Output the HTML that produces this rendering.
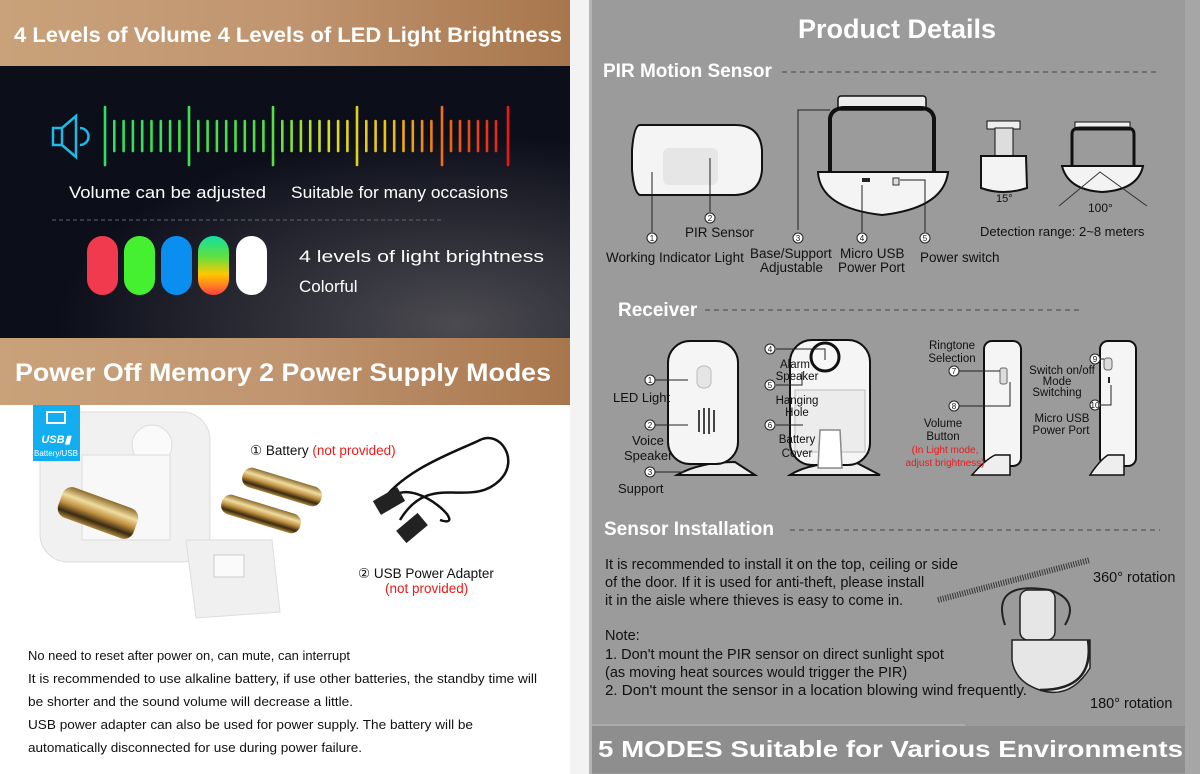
<!DOCTYPE html>
<html><head><meta charset="utf-8"><style>
html,body{margin:0;padding:0;background:#fff;}
svg{display:block;font-family:"Liberation Sans",Arial,sans-serif;}
</style></head><body>
<svg width="1200" height="774" viewBox="0 0 1200 774" xmlns="http://www.w3.org/2000/svg" xml:space="preserve">
<defs>
<linearGradient id="tan" x1="0" x2="1" y1="0" y2="0"><stop offset="0" stop-color="#c9a27a"/><stop offset="0.5" stop-color="#c09570"/><stop offset="1" stop-color="#a8764c"/></linearGradient>
<radialGradient id="dark" cx="0.8" cy="0.95" r="0.7"><stop offset="0" stop-color="#4b4a50"/><stop offset="1" stop-color="#0c0e1a"/></radialGradient>
<linearGradient id="bars" x1="105" x2="512" gradientUnits="userSpaceOnUse"><stop offset="0" stop-color="#2ee060"/><stop offset="0.4" stop-color="#50e040"/><stop offset="0.55" stop-color="#d8e020"/><stop offset="0.7" stop-color="#f0c010"/><stop offset="0.8" stop-color="#f08010"/><stop offset="1" stop-color="#f01010"/></linearGradient>
<linearGradient id="rb" x1="0" x2="0" y1="0" y2="1"><stop offset="0" stop-color="#10e0a0"/><stop offset="0.35" stop-color="#60e040"/><stop offset="0.65" stop-color="#ffc800"/><stop offset="1" stop-color="#ff4040"/></linearGradient>
<linearGradient id="gold" x1="0" x2="0" y1="0" y2="1"><stop offset="0" stop-color="#8a6a2a"/><stop offset="0.3" stop-color="#f0dca0"/><stop offset="0.55" stop-color="#c09040"/><stop offset="0.8" stop-color="#3a2a10"/><stop offset="1" stop-color="#b08a40"/></linearGradient>
</defs>

<rect x="0" y="0" width="570" height="66" fill="url(#tan)"/>
<text x="14" y="42" font-size="21" font-weight="bold" fill="#fff" textLength="548" lengthAdjust="spacingAndGlyphs">4 Levels of Volume  4 Levels of LED Light Brightness</text>
<rect x="0" y="66" width="570" height="272" fill="url(#dark)"/>
<g fill="none" stroke="#22b8e6" stroke-width="2.5">
<rect x="53" y="128" width="9" height="17"/>
<path d="M62 128 L76 116 L76 157 L62 145"/>
<path d="M80 128 A8 8 0 0 1 80 145"/>
</g>
<g stroke="url(#bars)" stroke-width="2.6" stroke-linecap="round">
<line x1="105" y1="107" x2="105" y2="165"/><line x1="189" y1="107" x2="189" y2="165"/><line x1="273" y1="107" x2="273" y2="165"/><line x1="357" y1="107" x2="357" y2="165"/><line x1="442" y1="107" x2="442" y2="165"/><line x1="508" y1="107" x2="508" y2="165"/>
<line x1="114.3" y1="121" x2="114.3" y2="151"/><line x1="123.6" y1="121" x2="123.6" y2="151"/><line x1="132.9" y1="121" x2="132.9" y2="151"/><line x1="142.2" y1="121" x2="142.2" y2="151"/><line x1="151.5" y1="121" x2="151.5" y2="151"/><line x1="160.8" y1="121" x2="160.8" y2="151"/><line x1="170.1" y1="121" x2="170.1" y2="151"/><line x1="179.4" y1="121" x2="179.4" y2="151"/>
<line x1="198.3" y1="121" x2="198.3" y2="151"/><line x1="207.6" y1="121" x2="207.6" y2="151"/><line x1="216.9" y1="121" x2="216.9" y2="151"/><line x1="226.2" y1="121" x2="226.2" y2="151"/><line x1="235.5" y1="121" x2="235.5" y2="151"/><line x1="244.8" y1="121" x2="244.8" y2="151"/><line x1="254.1" y1="121" x2="254.1" y2="151"/><line x1="263.4" y1="121" x2="263.4" y2="151"/>
<line x1="282.3" y1="121" x2="282.3" y2="151"/><line x1="291.6" y1="121" x2="291.6" y2="151"/><line x1="300.9" y1="121" x2="300.9" y2="151"/><line x1="310.2" y1="121" x2="310.2" y2="151"/><line x1="319.5" y1="121" x2="319.5" y2="151"/><line x1="328.8" y1="121" x2="328.8" y2="151"/><line x1="338.1" y1="121" x2="338.1" y2="151"/><line x1="347.4" y1="121" x2="347.4" y2="151"/>
<line x1="366.3" y1="121" x2="366.3" y2="151"/><line x1="375.6" y1="121" x2="375.6" y2="151"/><line x1="384.9" y1="121" x2="384.9" y2="151"/><line x1="394.2" y1="121" x2="394.2" y2="151"/><line x1="403.5" y1="121" x2="403.5" y2="151"/><line x1="412.8" y1="121" x2="412.8" y2="151"/><line x1="422.1" y1="121" x2="422.1" y2="151"/><line x1="431.4" y1="121" x2="431.4" y2="151"/>
<line x1="451" y1="121" x2="451" y2="151"/><line x1="460" y1="121" x2="460" y2="151"/><line x1="469" y1="121" x2="469" y2="151"/><line x1="478" y1="121" x2="478" y2="151"/><line x1="487" y1="121" x2="487" y2="151"/><line x1="496" y1="121" x2="496" y2="151"/>
</g>
<text x="69" y="198" font-size="17" fill="#fff" textLength="197" lengthAdjust="spacingAndGlyphs">Volume can be adjusted</text>
<text x="291" y="198" font-size="17" fill="#fff" textLength="217" lengthAdjust="spacingAndGlyphs">Suitable for many occasions</text>
<line x1="52" y1="220" x2="442" y2="220" stroke="#666" stroke-dasharray="4 3"/>
<rect x="87" y="236" width="31" height="59" rx="15.5" fill="#f23a4e"/>
<rect x="124" y="236" width="31" height="59" rx="15.5" fill="#44f030"/>
<rect x="161" y="236" width="31" height="59" rx="15.5" fill="#0a8ef0"/>
<rect x="198" y="236" width="31" height="59" rx="15.5" fill="url(#rb)"/>
<rect x="236" y="236" width="31" height="59" rx="15.5" fill="#fff"/>
<text x="299" y="262" font-size="17" fill="#fff" textLength="245" lengthAdjust="spacingAndGlyphs">4 levels of light brightness</text>
<text x="299" y="292" font-size="17" fill="#fff">Colorful</text>
<rect x="0" y="338" width="570" height="67" fill="url(#tan)"/>
<text x="15" y="381" font-size="25" font-weight="bold" fill="#fff" textLength="536" lengthAdjust="spacingAndGlyphs">Power Off Memory   2 Power Supply Modes</text>

<rect x="40" y="412" width="170" height="150" rx="28" fill="#f1f1f1" stroke="#dcdcdc"/>
<circle cx="152" cy="445" r="20" fill="#fafafa" stroke="#ddd"/>
<rect x="82" y="455" width="88" height="85" fill="#f8f8f8" stroke="#ddd"/>
<rect x="58" y="497" width="80" height="32" rx="10" fill="url(#gold)" transform="rotate(20 98 513)"/>
<rect x="33" y="405" width="47" height="56" fill="#12aef0"/>
<rect x="47" y="412" width="18" height="11" fill="none" stroke="#fff" stroke-width="2"/>
<text x="56" y="443" text-anchor="middle" font-size="11" font-style="italic" font-weight="bold" fill="#fff">USB▮</text>
<text x="56" y="456" text-anchor="middle" font-size="8" fill="#fff">Battery/USB</text>
<path d="M186 540 L272 540 L280 612 L196 618 Z" fill="#f0f0f0" stroke="#ddd"/>
<rect x="214" y="555" width="30" height="22" fill="#fafafa" stroke="#ccc"/>
<rect x="241" y="477" width="82" height="20" rx="9" fill="url(#gold)" transform="rotate(17 282 487)"/>
<rect x="220" y="504" width="82" height="20" rx="9" fill="url(#gold)" transform="rotate(17 261 514)"/>
<text x="250" y="455" font-size="13.5" fill="#111">① Battery <tspan fill="#f01818">(not provided)</tspan></text>
<path d="M380 505 C400 470 460 450 480 440 C500 430 520 460 500 480 C470 510 430 470 400 520 M395 495 C420 480 470 530 440 520" fill="none" stroke="#111" stroke-width="2.5"/>
<rect x="375" y="493" width="28" height="16" fill="#222" transform="rotate(-30 389 501)"/>
<rect x="398" y="520" width="28" height="16" fill="#222" transform="rotate(-40 412 528)"/>
<text x="358" y="578" font-size="13.5" fill="#111">② USB Power Adapter</text>
<text x="385" y="593" font-size="13.5" fill="#f01818">(not provided)</text>
<g font-size="13" fill="#111">
<text x="28" y="660" textLength="322" lengthAdjust="spacingAndGlyphs">No need to reset after power on, can mute, can interrupt</text>
<text x="28" y="683" textLength="509" lengthAdjust="spacingAndGlyphs">It is recommended to use alkaline battery, if use other batteries, the standby time will</text>
<text x="28" y="706" textLength="325" lengthAdjust="spacingAndGlyphs">be shorter and the sound volume will decrease a little.</text>
<text x="28" y="729" textLength="445" lengthAdjust="spacingAndGlyphs">USB power adapter can also be used for power supply. The battery will be</text>
<text x="28" y="752" textLength="334" lengthAdjust="spacingAndGlyphs">automatically disconnected for use during power failure.</text>
</g>

<rect x="570" y="0" width="22" height="774" fill="#f3f3f3"/>
<rect x="589" y="0" width="3" height="774" fill="#b4b4b4"/>

<rect x="592" y="0" width="608" height="774" fill="#9b9b9b"/>
<rect x="1185" y="0" width="15" height="774" fill="#a6a6a6"/>
<text x="897" y="38" text-anchor="middle" font-size="27" font-weight="bold" fill="#fff">Product Details</text>
<text x="603" y="77" font-size="19" font-weight="bold" fill="#fff">PIR Motion Sensor</text>
<line x1="782" y1="72" x2="1160" y2="72" stroke="#444" stroke-dasharray="5 4"/>

<path d="M640 125 L735 125 Q760 125 762 150 L762 170 Q760 194 735 195 L640 195 Q634 193 632 170 L632 150 Q634 125 640 125 Z" fill="#f4f4f4" stroke="#111" stroke-width="2"/>
<rect x="663" y="148" width="55" height="37" rx="6" fill="#e6e6e6"/>
<rect x="838" y="96" width="88" height="14" rx="3" fill="#eee" stroke="#111" stroke-width="1.5"/>
<path d="M830 180 L830 118 Q832 108 845 108 L920 108 Q932 108 934 118 L934 180" fill="none" stroke="#111" stroke-width="4"/>
<path d="M818 172 L948 172 Q944 208 882 215 Q820 208 818 172 Z" fill="#f4f4f4" stroke="#111" stroke-width="2"/>
<rect x="862" y="178" width="8" height="4" fill="#222"/>
<rect x="893" y="178" width="6" height="7" fill="#ddd" stroke="#333"/>
<rect x="987" y="121" width="33" height="8" fill="#eee" stroke="#111"/>
<rect x="995" y="128" width="18" height="35" fill="#ddd" stroke="#111"/>
<path d="M981 156 L1026 156 L1027 188 Q1003 196 981 188 Z" fill="#f3f3f3" stroke="#111" stroke-width="2"/>
<text x="996" y="202" font-size="11" fill="#111">15°</text>
<rect x="1075" y="122" width="55" height="8" fill="#eee" stroke="#111"/>
<path d="M1072 168 L1072 134 Q1072 128 1080 128 L1127 128 Q1134 128 1134 134 L1134 168" fill="none" stroke="#111" stroke-width="3"/>
<path d="M1062 166 L1143 166 Q1138 190 1102 192 Q1068 190 1062 166 Z" fill="#f3f3f3" stroke="#111" stroke-width="2"/>
<path d="M1059 206 L1100 172 L1147 206" fill="none" stroke="#333"/>
<text x="1088" y="212" font-size="12" fill="#111">100°</text>
<text x="980" y="236" font-size="13" fill="#111">Detection range: 2~8 meters</text>
<g stroke="#222" fill="none" stroke-width="1">
<path d="M652 172 L652 232"/><path d="M710 158 L710 212"/><path d="M798 230 L798 110 L830 110"/><path d="M862 185 L862 232"/><path d="M900 180 L925 180 L925 232"/>
</g>
<g fill="#fff" stroke="#222"><circle cx="652" cy="238" r="5"/><circle cx="710" cy="218" r="5"/><circle cx="798" cy="238" r="5"/><circle cx="862" cy="238" r="5"/><circle cx="925" cy="238" r="5"/></g>
<g font-size="8" text-anchor="middle" fill="#111"><text x="652" y="241">1</text><text x="710" y="221">2</text><text x="798" y="241">3</text><text x="862" y="241">4</text><text x="925" y="241">5</text></g>
<g font-size="13.5" fill="#111">
<text x="606" y="262">Working Indicator Light</text>
<text x="685" y="237">PIR Sensor</text>
<text x="750" y="258">Base/Support</text><text x="760" y="272">Adjustable</text>
<text x="840" y="258">Micro USB</text><text x="838" y="272">Power Port</text>
<text x="920" y="262">Power switch</text>
</g>

<text x="618" y="316" font-size="19" font-weight="bold" fill="#fff">Receiver</text>
<line x1="705" y1="310" x2="1080" y2="310" stroke="#444" stroke-dasharray="5 4"/>
<path d="M677 475 Q700 462 735 462 L755 475 Z M705 460 L705 440 L725 440 L725 462" fill="#eee" stroke="#111" stroke-width="2"/>
<rect x="668" y="341" width="70" height="123" rx="22" fill="#f5f5f5" stroke="#111" stroke-width="2"/>
<rect x="697" y="366" width="14" height="22" rx="6" fill="#e5e5e5" stroke="#bbb"/>
<g fill="#444"><rect x="698" y="410" width="2" height="22"/><rect x="703" y="408" width="2" height="26"/><rect x="708" y="408" width="2" height="26"/><rect x="713" y="410" width="2" height="22"/></g>
<path d="M790 475 Q810 462 855 462 L880 475 Z" fill="#eee" stroke="#111" stroke-width="2"/>
<rect x="790" y="340" width="80" height="125" rx="22" fill="#f5f5f5" stroke="#111" stroke-width="2"/>
<circle cx="825" cy="357" r="14" fill="#f8f8f8" stroke="#111" stroke-width="3"/>
<rect x="795" y="390" width="70" height="62" fill="#ececec" stroke="#bbb"/>
<path d="M820 430 L840 430 L842 468 L818 468 Z" fill="#fff" stroke="#888" stroke-width="1.5"/>
<rect x="984" y="341" width="37" height="125" rx="8" fill="#f5f5f5" stroke="#111" stroke-width="2"/>
<path d="M972 475 Q985 460 995 455 L1010 455 L1010 475 Z" fill="#eee" stroke="#111" stroke-width="1.5"/>
<rect x="1000" y="368" width="7" height="16" rx="2" fill="#ddd" stroke="#666"/>
<rect x="1100" y="341" width="36" height="125" rx="8" fill="#f5f5f5" stroke="#111" stroke-width="2"/>
<path d="M1090 475 Q1100 460 1108 455 L1124 455 L1124 475 Z" fill="#eee" stroke="#111" stroke-width="1.5"/>
<rect x="1104" y="358" width="8" height="12" rx="3" fill="#ddd" stroke="#666"/>
<rect x="1108" y="377" width="2" height="6" fill="#222"/>
<g stroke="#222" fill="none" stroke-width="1">
<path d="M650 380 L688 380"/><path d="M650 425 L688 425"/><path d="M650 472 L685 472"/>
<path d="M776 349 L825 349 L825 360"/><path d="M776 385 L802 385 L802 372"/><path d="M776 425 L803 425"/>
<path d="M959 371 L1000 371"/><path d="M959 406 L1010 406 L1010 382"/>
<path d="M1100 359 L1104 359"/><path d="M1100 405 L1111 405 L1111 385"/>
</g>
<g fill="#fff" stroke="#222"><circle cx="650" cy="380" r="5"/><circle cx="650" cy="425" r="5"/><circle cx="650" cy="472" r="5"/><circle cx="770" cy="349" r="5"/><circle cx="770" cy="385" r="5"/><circle cx="770" cy="425" r="5"/><circle cx="954" cy="371" r="5"/><circle cx="954" cy="406" r="5"/><circle cx="1095" cy="359" r="5"/><circle cx="1095" cy="405" r="5"/></g>
<g font-size="8" text-anchor="middle" fill="#111"><text x="650" y="383">1</text><text x="650" y="428">2</text><text x="650" y="475">3</text><text x="770" y="352">4</text><text x="770" y="388">5</text><text x="770" y="428">6</text><text x="954" y="374">7</text><text x="954" y="409">8</text><text x="1095" y="362">9</text><text x="1095" y="408">10</text></g>
<g font-size="13" fill="#111">
<text x="613" y="402">LED Light</text>
<text x="632" y="445">Voice</text><text x="624" y="460">Speaker</text>
<text x="618" y="493">Support</text>
</g>
<g font-size="11.5" fill="#111" text-anchor="middle">
<text x="795" y="368">Alarm</text><text x="797" y="380">Speaker</text>
<text x="797" y="404">Hanging</text><text x="797" y="416">Hole</text>
<text x="797" y="443">Battery</text><text x="797" y="457">Cover</text>
<text x="952" y="349">Ringtone</text><text x="952" y="362">Selection</text>
<text x="943" y="427">Volume</text><text x="943" y="440">Button</text>
<text x="1062" y="374">Switch on/off</text><text x="1057" y="385">Mode</text><text x="1057" y="396">Switching</text>
<text x="1062" y="422">Micro USB</text><text x="1061" y="434">Power Port</text>
</g>
<g font-size="10" fill="#f01818" text-anchor="middle"><text x="945" y="453">(In Light mode,</text><text x="945" y="466">adjust brightness)</text></g>

<text x="604" y="535" font-size="19" font-weight="bold" fill="#fff">Sensor Installation</text>
<line x1="790" y1="530" x2="1160" y2="530" stroke="#444" stroke-dasharray="5 4"/>
<g font-size="14.5" fill="#111">
<text x="605" y="569">It is recommended to install it on the top, ceiling or side</text>
<text x="605" y="587">of the door. If it is used for anti-theft, please install</text>
<text x="605" y="605">it in the aisle where thieves is easy to come in.</text>
<text x="605" y="640">Note:</text>
<text x="605" y="659">1. Don't mount the PIR sensor on direct sunlight spot</text>
<text x="605" y="677">(as moving heat sources would trigger the PIR)</text>
<text x="605" y="695" textLength="422" lengthAdjust="spacingAndGlyphs">2. Don't mount the sensor in a location blowing wind frequently.</text>
<text x="1093" y="582">360° rotation</text>
<text x="1090" y="708">180° rotation</text>
</g>
<path d="M938 600 L1090 560" stroke="#333" stroke-width="6" stroke-dasharray="1 1.5"/>
<rect x="1020" y="590" width="35" height="50" rx="8" fill="#e6e6e6" stroke="#222" stroke-width="1.5"/>
<path d="M1012 640 L1090 640 L1090 668 Q1070 700 1040 690 Q1015 682 1012 660 Z" fill="#e6e6e6" stroke="#222" stroke-width="1.5"/>
<path d="M1005 625 Q990 580 1050 590 Q1080 600 1065 625" fill="none" stroke="#222" stroke-width="2"/>
<path d="M1040 690 Q1095 690 1088 640" fill="none" stroke="#222" stroke-width="2.5"/>

<line x1="592" y1="725" x2="965" y2="725" stroke="#bcbcbc"/>
<rect x="592" y="726" width="593" height="47" fill="#8e8e8e"/>
<text x="598" y="757" font-size="23" font-weight="bold" fill="#fff" textLength="585" lengthAdjust="spacingAndGlyphs">5 MODES Suitable for Various Environments</text>
</svg>
</body></html>
